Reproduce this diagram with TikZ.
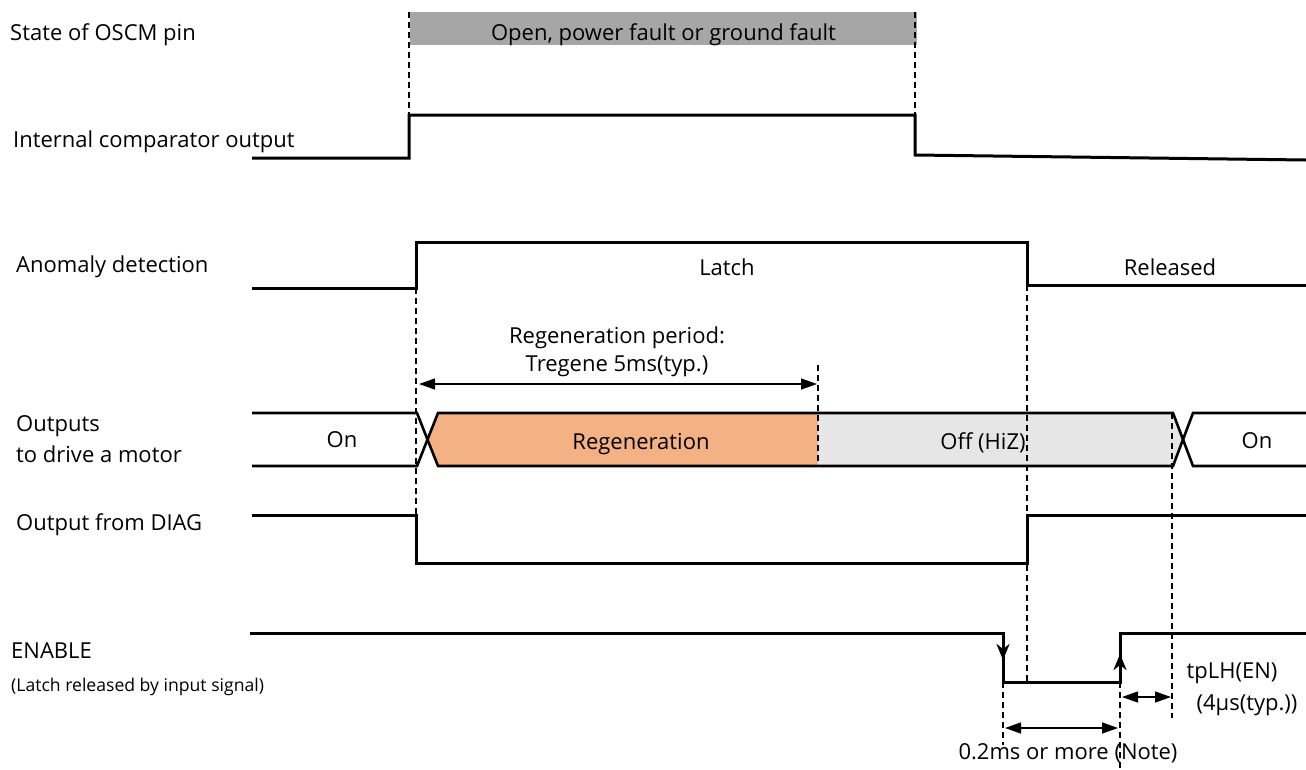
\documentclass[tikz,border=0pt]{standalone}
\usepackage{fontspec}
\setmainfont{Open Sans}
\usepackage{tikz}
\usetikzlibrary{arrows.meta, positioning, calc}
\definecolor{Gray}  {HTML}{A6A6A6}
\definecolor{Orange}{HTML}{F4B183}
\definecolor{Light} {HTML}{E6E6E6}
\tikzset{
  sig/.style={line width=3pt, line join=miter},
  bus/.style={line width=2.6pt},
  dline/.style={line width=1.3pt, dash pattern=on 6pt off 4pt},
  dim/.style={{Triangle[length=16pt,width=11pt]}-{Triangle[length=16pt,width=11pt]}, line width=1.4pt},
  edge/.style={-{Stealth[length=16pt,width=13pt,inset=5pt]}, line width=3pt},
  lbl/.style={anchor=base west, inner sep=0pt, font=\fontsize{22}{26}\selectfont},
  txt/.style={anchor=base, inner sep=0pt, font=\fontsize{22}{26}\selectfont}
}

\begin{document}
\begin{tikzpicture}[x=1pt, y=-1pt]
  \useasboundingbox (0,0) rectangle (1306,769);
  % signal names
  \node[lbl] (nOSCM) at (10,40)  {State of OSCM pin};
  \node[lbl] (nCMP)  at (13,147) {Internal comparator output};
  \node[lbl] (nANO)  at (16,272) {Anomaly detection};
  \node[lbl] (nOUT)  at (16,431) {Outputs};
  \node[lbl] (nDRV)  at (16,462) {to drive a motor};
  \node[lbl] (nDIAG) at (16,530) {Output from DIAG};
  \node[lbl] (nEN)   at (11,658) {ENABLE};
  \node[lbl,font=\fontsize{17.6}{20}\selectfont] (nENs) at (11,691) {(Latch released by input signal)};

  % OSCM state bar
  \fill[Gray] (410,12) rectangle (917,45);
  \node[txt] (fault) at (663.5,40) {Open, power fault or ground fault};

  % comparator
  \draw[sig] (252,158) -- (409,158) -- (409,115) -- (915,115) -- (915,155) -- (1306,160);
  \draw[dline] (409,12) -- (409,115);
  \draw[dline] (915,12) -- (915,115);

  % anomaly detection
  \draw[sig] (252,288) -- (416,288) -- (416,242) -- (1027,242) -- (1027,285) -- (1306,285);
  \node[txt] (latch) at (727,275) {Latch};
  \node[txt] (rel)   at (1170,275) {Released};

  % outputs to drive a motor
  \fill[Orange] (438,413) -- (818,413) -- (818,466) -- (438,466) -- (427,439.5) -- cycle;
  \fill[Light]  (818,413) -- (1173,413) -- (1183,439.5) -- (1173,466) -- (818,466) -- cycle;
  \draw[bus] (252,413) -- (417,413) -- (438,466) -- (1173,466) -- (1193,413) -- (1306,413);
  \draw[bus] (252,466) -- (417,466) -- (438,413) -- (1173,413) -- (1193,466) -- (1306,466);
  \node[txt] (on1)   at (342,447) {On};
  \node[txt] (regen) at (641,449) {Regeneration};
  \node[txt] (off)   at (983,449) {Off (HiZ)};
  \node[txt] (on2)   at (1257,448) {On};

  % regeneration period
  \node[txt] (tr1) at (617,343) {Regeneration period:};
  \node[txt] (tr2) at (617,371) {Tregene 5ms(typ.)};
  \coordinate (rs) at (419,384);
  \coordinate (re) at (817,384);
  \draw[dim] (rs) -- (re);
  \draw[dline] (818,365) -- (818,466);
  \draw[dline] (416,288) -- (416,515);

  % DIAG
  \draw[sig] (252,515) -- (416,515) -- (416,563) -- (1027,563) -- (1027,515) -- (1306,515);

  % ENABLE
  \draw[sig] (250,633) -- (1003,633) -- (1003,682) -- (1120,682) -- (1120,633) -- (1306,633);
  \draw[edge] (1003,633) -- (1003,660);
  \draw[edge] (1120,682) -- (1120,654);
  \draw[dline] (1027,285) -- (1027,682);
  \draw[dline] (1172,413) -- (1172,718);
  \draw[dline] (1003,682) -- (1003,745);
  \draw[dline] (1120,682) -- (1120,769);

  \coordinate (w1) at (1005,728);
  \coordinate (w2) at (1118,728);
  \draw[dim] (w1) -- (w2);
  \coordinate (t1) at (1122,697);
  \coordinate (t2) at (1171,697);
  \draw[dim] (t1) -- (t2);
  \node[txt] (tplh) at (1232,678) {tpLH(EN)};
  \node[txt] (tpv)  at (1247,710) {(4µs(typ.))};
  \node[txt] (note) at (1068,759) {0.2ms or more (Note)};
\end{tikzpicture}
\end{document}
